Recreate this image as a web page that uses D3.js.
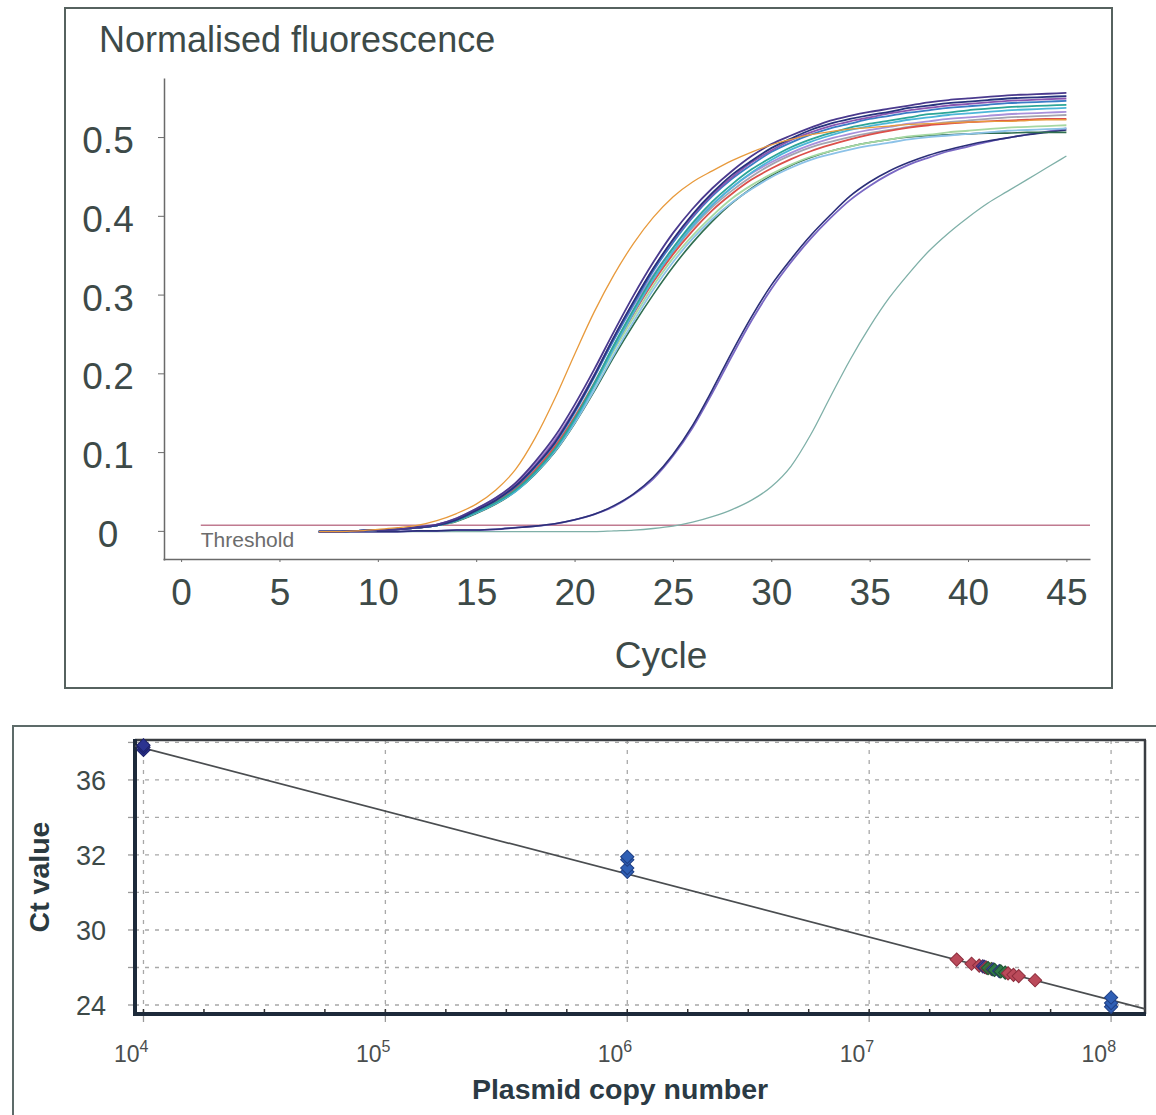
<!DOCTYPE html>
<html>
<head>
<meta charset="utf-8">
<script src="https://cdn.jsdelivr.net/npm/d3@7"></script>
<style>
  html, body { margin: 0; padding: 0; background: #fff; }
  svg { display: block; font-family: 'Liberation Sans', Arial, sans-serif; }
</style>
</head>
<body>
<svg id="chart" width="1156" height="1115"></svg>
<script>
'use strict';

// ---- amplification plot data (normalised fluorescence per cycle) ----
const cycles = [7, 8, 9, 10, 11, 12, 13, 14, 15, 16, 17, 18, 19, 20, 21, 22, 23, 24, 25, 26,
  27, 28, 29, 30, 31, 32, 33, 34, 35, 36, 37, 38, 39, 40, 41, 42, 43, 44, 45];
const cycleTicks = [0, 5, 10, 15, 20, 25, 30, 35, 40, 45];
const fluorTicks = [0, 0.1, 0.2, 0.3, 0.4, 0.5];
const threshold = 0.007;
const thresholdCycles = [1, 46.2];

const tealLate = [-0.001, -0.001, -0.001, -0.001, -0.001, -0.001, -0.001, -0.001, -0.001, -0.001, -0.001, -0.001, -0.001, -0.001, -0.001,
  0.000, 0.001, 0.003, 0.006, 0.011, 0.018, 0.027, 0.039, 0.056, 0.082, 0.122, 0.170, 0.217, 0.259, 0.296,
  0.327, 0.355, 0.378, 0.398, 0.416, 0.431, 0.446, 0.461, 0.476];
const navyMid = [-0.001, -0.001, -0.001, -0.001, -0.001, 0.000, 0.000, 0.001, 0.001, 0.002, 0.004, 0.006, 0.009, 0.014, 0.021,
  0.032, 0.047, 0.068, 0.097, 0.134, 0.179, 0.227, 0.272, 0.312, 0.345, 0.375, 0.401, 0.425, 0.443, 0.457,
  0.468, 0.477, 0.484, 0.490, 0.495, 0.499, 0.503, 0.506, 0.509];
const purpleMid = [-0.001, -0.001, -0.001, -0.001, -0.001, 0.000, 0.000, 0.001, 0.001, 0.002, 0.004, 0.006, 0.009, 0.014, 0.021,
  0.031, 0.046, 0.066, 0.095, 0.131, 0.175, 0.222, 0.267, 0.307, 0.341, 0.371, 0.397, 0.420, 0.438, 0.453,
  0.465, 0.474, 0.482, 0.488, 0.494, 0.499, 0.503, 0.507, 0.511];
const greenLow = [-0.001, -0.001, 0.000, 0.001, 0.002, 0.004, 0.007, 0.012, 0.022, 0.034, 0.050, 0.072, 0.100, 0.136, 0.177,
  0.221, 0.262, 0.300, 0.335, 0.366, 0.393, 0.416, 0.435, 0.451, 0.464, 0.474, 0.482, 0.488, 0.493, 0.497,
  0.500, 0.502, 0.503, 0.504, 0.505, 0.505, 0.506, 0.506, 0.506];
const lightBlue = [-0.001, -0.001, 0.000, 0.001, 0.002, 0.004, 0.007, 0.013, 0.023, 0.035, 0.051, 0.073, 0.101, 0.137, 0.179,
  0.224, 0.266, 0.306, 0.341, 0.371, 0.396, 0.417, 0.434, 0.449, 0.461, 0.471, 0.478, 0.484, 0.489, 0.493,
  0.497, 0.500, 0.502, 0.504, 0.506, 0.508, 0.509, 0.510, 0.511];
const lightGreen = [-0.001, -0.001, 0.000, 0.001, 0.002, 0.004, 0.007, 0.013, 0.024, 0.037, 0.053, 0.076, 0.105, 0.142, 0.184,
  0.229, 0.271, 0.311, 0.346, 0.375, 0.400, 0.422, 0.439, 0.453, 0.465, 0.475, 0.482, 0.488, 0.493, 0.497,
  0.501, 0.503, 0.506, 0.508, 0.510, 0.512, 0.513, 0.514, 0.515];
const red = [-0.001, -0.001, 0.000, 0.001, 0.002, 0.004, 0.007, 0.014, 0.024, 0.037, 0.054, 0.077, 0.107, 0.144, 0.187,
  0.233, 0.276, 0.316, 0.351, 0.381, 0.407, 0.428, 0.446, 0.460, 0.472, 0.482, 0.490, 0.497, 0.503, 0.508,
  0.512, 0.515, 0.517, 0.519, 0.520, 0.521, 0.522, 0.523, 0.523];
const gray = [-0.001, -0.001, 0.000, 0.001, 0.002, 0.004, 0.007, 0.014, 0.025, 0.038, 0.054, 0.078, 0.108, 0.145, 0.188,
  0.235, 0.278, 0.319, 0.354, 0.385, 0.411, 0.432, 0.450, 0.465, 0.477, 0.487, 0.494, 0.500, 0.505, 0.509,
  0.513, 0.516, 0.519, 0.521, 0.523, 0.525, 0.526, 0.527, 0.528];
const lavender = [-0.001, -0.001, 0.000, 0.001, 0.002, 0.005, 0.008, 0.016, 0.028, 0.042, 0.060, 0.085, 0.116, 0.154, 0.198,
  0.243, 0.286, 0.325, 0.359, 0.389, 0.414, 0.436, 0.454, 0.468, 0.480, 0.490, 0.498, 0.504, 0.509, 0.513,
  0.517, 0.520, 0.523, 0.525, 0.527, 0.529, 0.530, 0.531, 0.532];
const cyan = [-0.001, -0.001, 0.000, 0.001, 0.002, 0.004, 0.007, 0.013, 0.023, 0.035, 0.050, 0.073, 0.102, 0.139, 0.184,
  0.232, 0.277, 0.319, 0.355, 0.387, 0.414, 0.436, 0.455, 0.471, 0.484, 0.494, 0.502, 0.509, 0.514, 0.518,
  0.522, 0.525, 0.528, 0.530, 0.532, 0.534, 0.535, 0.536, 0.537];
const teal = [-0.001, -0.001, 0.000, 0.001, 0.002, 0.004, 0.007, 0.013, 0.024, 0.036, 0.052, 0.075, 0.104, 0.142, 0.187,
  0.236, 0.281, 0.323, 0.359, 0.391, 0.418, 0.440, 0.459, 0.474, 0.487, 0.497, 0.505, 0.512, 0.517, 0.521,
  0.525, 0.529, 0.531, 0.534, 0.536, 0.538, 0.539, 0.540, 0.541];
const blue = [-0.001, -0.001, 0.000, 0.001, 0.002, 0.004, 0.007, 0.014, 0.026, 0.039, 0.056, 0.081, 0.111, 0.150, 0.195,
  0.243, 0.288, 0.330, 0.366, 0.398, 0.425, 0.447, 0.465, 0.481, 0.493, 0.503, 0.511, 0.517, 0.523, 0.527,
  0.531, 0.534, 0.537, 0.539, 0.541, 0.543, 0.544, 0.545, 0.546];
const magenta = [-0.001, -0.001, 0.000, 0.001, 0.002, 0.004, 0.008, 0.015, 0.027, 0.040, 0.058, 0.083, 0.114, 0.153, 0.198,
  0.246, 0.291, 0.333, 0.369, 0.400, 0.427, 0.449, 0.468, 0.483, 0.496, 0.506, 0.514, 0.520, 0.525, 0.530,
  0.534, 0.537, 0.540, 0.542, 0.544, 0.546, 0.547, 0.548, 0.549];
const navy = [-0.001, -0.001, 0.000, 0.001, 0.002, 0.004, 0.007, 0.014, 0.026, 0.039, 0.057, 0.082, 0.112, 0.152, 0.197,
  0.246, 0.291, 0.333, 0.370, 0.402, 0.429, 0.452, 0.470, 0.486, 0.498, 0.509, 0.517, 0.523, 0.528, 0.532,
  0.537, 0.540, 0.543, 0.545, 0.547, 0.549, 0.550, 0.551, 0.552];
const darkPurple = [-0.001, -0.001, 0.000, 0.001, 0.002, 0.005, 0.008, 0.016, 0.028, 0.042, 0.061, 0.088, 0.120, 0.160, 0.205,
  0.253, 0.299, 0.341, 0.378, 0.409, 0.435, 0.457, 0.476, 0.491, 0.502, 0.512, 0.521, 0.527, 0.532, 0.536,
  0.540, 0.544, 0.547, 0.549, 0.551, 0.553, 0.554, 0.555, 0.556];
const orange = [-0.001, -0.001, 0.000, 0.002, 0.004, 0.007, 0.013, 0.022, 0.034, 0.052, 0.078, 0.118, 0.168, 0.224, 0.278,
  0.325, 0.365, 0.398, 0.424, 0.443, 0.457, 0.470, 0.481, 0.490, 0.497, 0.503, 0.507, 0.510, 0.512, 0.514,
  0.516, 0.517, 0.518, 0.519, 0.520, 0.520, 0.521, 0.522, 0.522];

// ---- standard curve data ----
const stdCopies = [1e4, 1e4, 1e4, 1e6, 1e6, 1e6, 1e6, 1e8, 1e8, 1e8];
const stdCt = [37.6, 37.75, 37.85, 31.1, 31.3, 31.75, 31.9, 23.9, 24.1, 24.4];
const sampleCopies = [2.3e7, 2.65e7, 2.85e7, 2.95e7, 3.0e7, 3.05e7, 3.1e7, 3.2e7, 3.25e7,
  3.3e7, 3.45e7, 3.5e7, 3.65e7, 3.75e7, 3.95e7, 4.15e7, 4.85e7];
const sampleCt = [26.42, 26.2, 26.1, 26.06, 26.03, 25.99, 25.97, 25.92, 25.9,
  25.87, 25.81, 25.79, 25.73, 25.69, 25.61, 25.54, 25.32];
const sampleGroup = ['red', 'red', 'red', 'purple', 'blue', 'red', 'green', 'olive', 'blue',
  'green', 'blue', 'green', 'green', 'red', 'red', 'red', 'red'];
const fitCopies = [9225, 1.381e8];
const fitCt = [37.82, 23.79];
const copyDecades = [1e4, 1e5, 1e6, 1e7, 1e8];
const copyExponents = ['4', '5', '6', '7', '8'];
const ctGrid = [24, 26, 28, 30, 32, 34, 36, 38];
const ctTicks = [24, 28, 32, 36];
const ctTickLabels = ['24', '30', '32', '36'];

const svg = d3.select('#chart');

/*
* Top panel: amplification curves
*/
const ampCurves = [
  {values: tealLate, color: '#7fb0a8', width: 1.3},
  {values: purpleMid, color: '#7a68c4', width: 1.8},
  {values: navyMid, color: '#2b2f78', width: 1.6},
  {values: greenLow, color: '#2f6e50', width: 1.6},
  {values: lightBlue, color: '#8cc2e8', width: 1.8},
  {values: lightGreen, color: '#a6d8a2', width: 1.8},
  {values: gray, color: '#a4a4b0', width: 1.8},
  {values: red, color: '#dc4f4a', width: 1.8},
  {values: lavender, color: '#a891da', width: 1.8},
  {values: cyan, color: '#4cb6d9', width: 1.8},
  {values: teal, color: '#2ca598', width: 1.8},
  {values: blue, color: '#3a7cc6', width: 1.8},
  {values: magenta, color: '#8a55b0', width: 1.8},
  {values: navy, color: '#27337d', width: 1.8},
  {values: darkPurple, color: '#4a3a8e', width: 1.8},
  {values: orange, color: '#e89a3c', width: 1.3}
];

const textColor = '#3d4a48';

svg.append('rect')
  .attr('x', 65).attr('y', 8)
  .attr('width', 1047).attr('height', 680)
  .attr('fill', 'none')
  .attr('stroke', '#56625f')
  .attr('stroke-width', 2);

const x = d3.scaleLinear().domain([-0.92, 46.2]).range([163, 1090]);
const y = d3.scaleLinear().domain([-0.037, 0.575]).range([560, 78]);

const yAxis = svg.append('g')
  .attr('transform', 'translate(164,0)')
  .call(d3.axisLeft(y)
    .tickValues(fluorTicks)
    .tickSize(6)
    .tickSizeOuter(0)
    .tickFormat(d => d === 0 ? '0' : d3.format('.1f')(d)));
yAxis.select('.domain').attr('stroke', '#6a6a6a').attr('stroke-width', 1.5);
yAxis.selectAll('.tick line').attr('stroke', '#6a6a6a');
yAxis.selectAll('.tick text')
  .attr('x', -56)
  .attr('dy', '0.42em')
  .attr('text-anchor', 'middle')
  .attr('fill', textColor)
  .style('font-size', '37px')
  .style('font-family', 'Liberation Sans, Arial, sans-serif');

const xAxis = svg.append('g')
  .attr('transform', 'translate(0,559)')
  .call(d3.axisBottom(x)
    .tickValues(cycleTicks)
    .tickSize(3)
    .tickSizeOuter(0));
xAxis.select('.domain').attr('stroke', '#6a6a6a').attr('stroke-width', 1.5);
xAxis.selectAll('.tick line').attr('stroke', '#6a6a6a');
xAxis.selectAll('.tick text')
  .attr('y', 46)
  .attr('dy', 0)
  .attr('fill', textColor)
  .style('font-size', '37px')
  .style('font-family', 'Liberation Sans, Arial, sans-serif');

svg.append('text')
  .attr('x', 99).attr('y', 52)
  .attr('fill', textColor)
  .style('font-size', '36px')
  .text('Normalised fluorescence');

svg.append('text')
  .attr('x', 661).attr('y', 668)
  .attr('text-anchor', 'middle')
  .attr('fill', textColor)
  .style('font-size', '37px')
  .text('Cycle');

// threshold
svg.append('line')
  .attr('x1', x(thresholdCycles[0])).attr('x2', x(thresholdCycles[1]))
  .attr('y1', y(threshold)).attr('y2', y(threshold))
  .attr('stroke', '#c07a90')
  .attr('stroke-width', 1.5);

svg.append('text')
  .attr('x', x(thresholdCycles[0])).attr('y', 547)
  .attr('fill', '#6c6c6c')
  .style('font-size', '21px')
  .text('Threshold');

const line = d3.line()
  .x((d, i) => x(cycles[i]))
  .y(d => y(d))
  .curve(d3.curveMonotoneX);

svg.append('g')
  .selectAll('path')
  .data(ampCurves)
  .enter().append('path')
  .attr('d', d => line(d.values))
  .attr('fill', 'none')
  .attr('stroke', d => d.color)
  .attr('stroke-width', d => d.width)
  .attr('stroke-linejoin', 'round');

/*
* Bottom panel: standard curve
*/
svg.append('rect')
  .attr('x', 13).attr('y', 726)
  .attr('width', 1200).attr('height', 500)
  .attr('fill', 'none')
  .attr('stroke', '#5d6b69')
  .attr('stroke-width', 2);

const xL = d3.scaleLog().domain([9225, 1.381e8]).range([135, 1145]);
const yL = d3.scaleLinear().domain([23.52, 38.13]).range([1014, 740]);
const [plotLeft, plotRight] = xL.range();
const [plotBottom, plotTop] = yL.range();

const grid = svg.append('g')
  .attr('stroke', '#a8a8a8')
  .attr('stroke-width', 1.3)
  .attr('stroke-dasharray', '4,6');

grid.selectAll('.hgrid')
  .data(ctGrid)
  .enter().append('line')
  .attr('x1', plotLeft).attr('x2', plotRight)
  .attr('y1', d => yL(d)).attr('y2', d => yL(d));

grid.selectAll('.vgrid')
  .data(copyDecades)
  .enter().append('line')
  .attr('x1', d => xL(d)).attr('x2', d => xL(d))
  .attr('y1', plotTop).attr('y2', plotBottom);

// outer ticks
svg.append('g')
  .selectAll('line')
  .data(ctGrid)
  .enter().append('line')
  .attr('x1', plotLeft - 7).attr('x2', plotLeft)
  .attr('y1', d => yL(d)).attr('y2', d => yL(d))
  .attr('stroke', '#9a9a9a')
  .attr('stroke-width', 1.3);

svg.append('g')
  .selectAll('line')
  .data(copyDecades)
  .enter().append('line')
  .attr('x1', d => xL(d)).attr('x2', d => xL(d))
  .attr('y1', plotBottom).attr('y2', plotBottom + 8)
  .attr('stroke', '#9a9a9a')
  .attr('stroke-width', 1.3);

// quarter-decade minor ticks on the bottom frame
svg.append('g')
  .selectAll('line')
  .data(d3.range(4, 8.01, 0.25).map(e => Math.pow(10, e)))
  .enter().append('line')
  .attr('x1', d => xL(d)).attr('x2', d => xL(d))
  .attr('y1', plotBottom - 5).attr('y2', plotBottom)
  .attr('stroke', '#333')
  .attr('stroke-width', 1.5);

// frame
svg.append('line')
  .attr('x1', plotLeft).attr('x2', plotRight + 1).attr('y1', plotTop).attr('y2', plotTop)
  .attr('stroke', '#3a3d42').attr('stroke-width', 2.5);
svg.append('line')
  .attr('x1', plotRight).attr('x2', plotRight).attr('y1', plotTop).attr('y2', plotBottom)
  .attr('stroke', '#3a3d42').attr('stroke-width', 2.5);
svg.append('line')
  .attr('x1', plotLeft).attr('x2', plotLeft).attr('y1', plotTop - 1).attr('y2', plotBottom + 2)
  .attr('stroke', '#1d2a3a').attr('stroke-width', 4);
svg.append('line')
  .attr('x1', plotLeft - 2).attr('x2', plotRight + 1).attr('y1', plotBottom).attr('y2', plotBottom)
  .attr('stroke', '#1d2a3a').attr('stroke-width', 4);

// fit line
const fitLine = d3.line()
  .x(d => xL(d[0]))
  .y(d => yL(d[1]));
svg.append('path')
  .attr('d', fitLine(d3.zip(fitCopies, fitCt)))
  .attr('fill', 'none')
  .attr('stroke', '#4a4d50')
  .attr('stroke-width', 1.7);

const diamond = d3.symbol(d3.symbolSquare, 88);
const sampleFill = {red: '#bb4a5a', green: '#2f7a48', blue: '#3b4ba2', olive: '#6f7f3a', purple: '#6a3f8e'};
const sampleStroke = {red: '#8d2d3d', green: '#1f5533', blue: '#263378', olive: '#4d5a28', purple: '#472a63'};

svg.append('g')
  .selectAll('path')
  .data(d3.zip(sampleCopies, sampleCt, sampleGroup))
  .enter().append('path')
  .attr('d', diamond)
  .attr('transform', d => `translate(${xL(d[0])},${yL(d[1])}) rotate(45)`)
  .attr('fill', d => sampleFill[d[2]])
  .attr('stroke', d => sampleStroke[d[2]])
  .attr('stroke-width', 1);

svg.append('g')
  .selectAll('path')
  .data(d3.zip(stdCopies, stdCt))
  .enter().append('path')
  .attr('d', diamond)
  .attr('transform', d => `translate(${xL(d[0])},${yL(d[1])}) rotate(45)`)
  .attr('fill', d => d[0] === 1e4 ? '#2b3390' : '#2f5fb5')
  .attr('stroke', d => d[0] === 1e4 ? '#1c2068' : '#1f3f85')
  .attr('stroke-width', 1);

// y tick labels
svg.append('g')
  .selectAll('text')
  .data(d3.zip(ctTicks, ctTickLabels))
  .enter().append('text')
  .attr('x', 106)
  .attr('y', d => yL(d[0]) + 10)
  .attr('text-anchor', 'end')
  .attr('fill', textColor)
  .style('font-size', '27px')
  .text(d => d[1]);

// x tick labels with exponents
const xLabels = svg.append('g')
  .selectAll('text')
  .data(d3.zip(copyDecades, copyExponents))
  .enter().append('text')
  .attr('x', d => xL(d[0]) + 5)
  .attr('y', 1062)
  .attr('text-anchor', 'end')
  .attr('fill', '#4a4e4e')
  .style('font-size', '23px');
xLabels.append('tspan').text('10');
xLabels.append('tspan')
  .attr('dy', -10)
  .style('font-size', '16px')
  .text(d => d[1]);

svg.append('text')
  .attr('transform', 'translate(49,877) rotate(-90)')
  .attr('text-anchor', 'middle')
  .attr('fill', '#2b3a40')
  .style('font-size', '28.5px')
  .style('font-weight', 'bold')
  .text('Ct value');

svg.append('text')
  .attr('x', 620).attr('y', 1099)
  .attr('text-anchor', 'middle')
  .attr('fill', '#2b3a44')
  .style('font-size', '28.5px')
  .style('font-weight', 'bold')
  .text('Plasmid copy number');
</script>
</body>
</html>
